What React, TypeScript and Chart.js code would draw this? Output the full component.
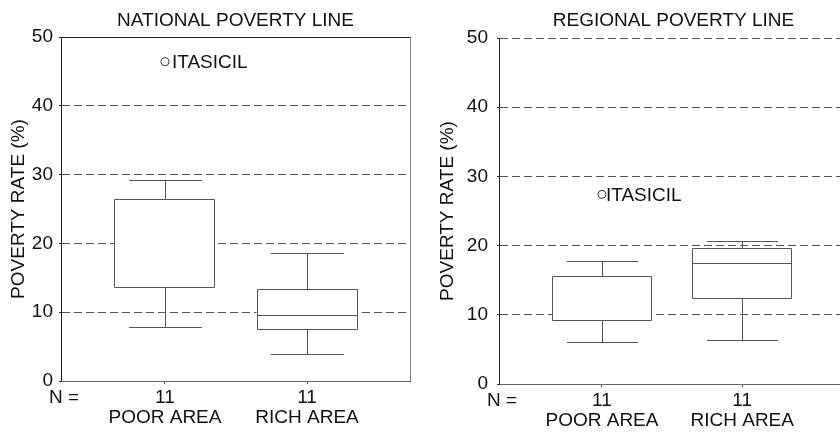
import React, { useEffect, useRef } from 'react';
import { Chart, registerables } from 'chart.js';

Chart.register(...registerables);

const FONT = "'Liberation Sans', Arial, Helvetica, sans-serif";
const FS = 19;

// ---- data ----
const categories = ['POOR AREA', 'RICH AREA'];
const groupSizes = ['11', '11'];
const positions = [1, 2];
const yTickValues = [0, 10, 20, 30, 40, 50];

const nationalTitle = 'NATIONAL POVERTY LINE';
const nationalMin = [7.9, 3.9];
const nationalQ1 = [13.6, 7.6];
const nationalMedian: (number | null)[] = [null, 9.6];
const nationalQ3 = [26.4, 13.4];
const nationalMax = [29.2, 18.6];
const nationalOutlierGroup = [1];
const nationalOutlierValue = [46.4];
const nationalOutlierLabel = ['ITASICIL'];

const regionalTitle = 'REGIONAL POVERTY LINE';
const regionalMin = [6.1, 6.4];
const regionalQ1 = [9.2, 12.5];
const regionalMedian: (number | null)[] = [null, 17.5];
const regionalQ3 = [15.6, 19.6];
const regionalMax = [17.8, 20.6];
const regionalOutlierGroup = [1];
const regionalOutlierValue = [27.4];
const regionalOutlierLabel = ['ITASICIL'];

const yTitle = 'POVERTY RATE (%)';
const nLabel = 'N =';

type Layout = {
  canvasW: number;
  yWidth: number;
  xHeight: number;
  padRight: number;
  titlePadTop: number;
  titlePadBottom: number;
  yTitlePad: number;
  yTickPad: number;
  xMin: number;
  xMax: number;
  frame: boolean;
  labelGap: number;
};

type Props = {
  title: string;
  min: number[];
  q1: number[];
  median: (number | null)[];
  q3: number[];
  max: number[];
  outGroup: number[];
  outValue: number[];
  outLabel: string[];
  layout: Layout;
};

const TEXT = '#111';
const LINE = '#555';

function BoxChart(props: Props) {
  const ref = useRef<HTMLCanvasElement | null>(null);
  useEffect(() => {
    const canvas = ref.current;
    if (!canvas) return;
    const { title, min, q1, median, q3, max, outGroup, outValue, outLabel, layout } = props;

    const boxPlugin = {
      id: 'boxWhiskers',
      afterDatasetsDraw(chart: any) {
        const { ctx, scales } = chart;
        const x = scales.x;
        const y = scales.y;
        const meta = chart.getDatasetMeta(0);
        const py = (v: number) => Math.round(y.getPixelForValue(v)) + 0.5;
        ctx.save();
        ctx.strokeStyle = LINE;
        ctx.lineWidth = 1;
        positions.forEach((p, i) => {
          const cx = Math.round(x.getPixelForValue(p)) + 0.5;
          const bar = meta.data[i];
          const half = bar.width / 2;
          const left = Math.round(bar.x - half) + 0.5;
          const right = Math.round(bar.x + half) - 0.5;
          const capHalf = x.getPixelForValue(p + 0.255) - x.getPixelForValue(p);
          ctx.beginPath();
          // box outline
          ctx.rect(left, py(q3[i]), right - left, py(q1[i]) - py(q3[i]));
          // whiskers
          ctx.moveTo(cx, py(q3[i]));
          ctx.lineTo(cx, py(max[i]));
          ctx.moveTo(Math.round(cx - capHalf), py(max[i]));
          ctx.lineTo(Math.round(cx + capHalf), py(max[i]));
          ctx.moveTo(cx, py(q1[i]));
          ctx.lineTo(cx, py(min[i]));
          ctx.moveTo(Math.round(cx - capHalf), py(min[i]));
          ctx.lineTo(Math.round(cx + capHalf), py(min[i]));
          const m = median[i];
          if (m !== null && m !== undefined) {
            ctx.moveTo(left, py(m));
            ctx.lineTo(right, py(m));
          }
          ctx.stroke();
        });
        // outlier labels
        ctx.fillStyle = TEXT;
        ctx.font = `${FS}px ${FONT}`;
        ctx.textAlign = 'left';
        ctx.textBaseline = 'middle';
        outGroup.forEach((g, i) => {
          const px = x.getPixelForValue(g);
          const pyv = y.getPixelForValue(outValue[i]);
          ctx.fillText(outLabel[i], px + layout.labelGap, pyv + 1);
        });
        ctx.restore();
      },
      afterDraw(chart: any) {
        const { ctx, chartArea } = chart;
        ctx.save();
        if (layout.frame) {
          ctx.lineWidth = 1;
          ctx.strokeStyle = '#222';
          ctx.beginPath();
          ctx.moveTo(chartArea.left, Math.round(chartArea.top) + 0.5);
          ctx.lineTo(chartArea.right, Math.round(chartArea.top) + 0.5);
          ctx.stroke();
          ctx.strokeStyle = '#808080';
          ctx.beginPath();
          ctx.moveTo(Math.round(chartArea.right) + 0.5, chartArea.top);
          ctx.lineTo(Math.round(chartArea.right) + 0.5, chartArea.bottom);
          ctx.stroke();
        }
        ctx.fillStyle = TEXT;
        ctx.font = `${FS}px ${FONT}`;
        ctx.textAlign = 'left';
        ctx.textBaseline = 'middle';
        ctx.fillText(nLabel, chartArea.left - 12, chartArea.bottom + 3 + 4 + 10);
        ctx.restore();
      },
    };

    const chart = new Chart(canvas, {
      type: 'bar',
      data: {
        datasets: [
          {
            type: 'bar',
            data: positions.map((p, i) => ({ x: p, y: [q1[i], q3[i]] })) as any,
            backgroundColor: '#ffffff',
            borderWidth: 0,
            borderSkipped: false,
            barPercentage: 0.711,
            categoryPercentage: 1,
          } as any,
          {
            type: 'scatter',
            data: outGroup.map((g, i) => ({ x: g, y: outValue[i] })),
            pointRadius: 4,
            pointBackgroundColor: '#ffffff',
            pointBorderColor: '#333',
            pointBorderWidth: 1,
            showLine: false,
          } as any,
        ],
      },
      options: {
        responsive: false,
        animation: false,
        events: [],
        layout: { padding: { left: 0, right: layout.padRight, top: 0, bottom: 0 } },
        plugins: {
          legend: { display: false },
          tooltip: { enabled: false },
          title: {
            display: true,
            text: title,
            fullSize: false,
            color: TEXT,
            font: { family: FONT, size: FS, weight: 'normal', lineHeight: 1.2 },
            padding: { top: layout.titlePadTop, bottom: layout.titlePadBottom },
          },
        },
        scales: {
          x: {
            type: 'linear',
            min: layout.xMin,
            max: layout.xMax,
            offset: false,
            afterBuildTicks: (s: any) => {
              s.ticks = positions.map((v) => ({ value: v }));
            },
            afterFit: (s: any) => {
              s.height = layout.xHeight;
            },
            ticks: {
              autoSkip: false,
              maxRotation: 0,
              minRotation: 0,
              padding: 4,
              color: TEXT,
              font: { family: FONT, size: FS, lineHeight: 20 / FS },
              callback: (value: any) => {
                const i = positions.indexOf(Number(value));
                return i >= 0 ? [groupSizes[i], categories[i]] : '';
              },
            },
            grid: {
              drawOnChartArea: false,
              drawTicks: true,
              tickLength: 3,
              tickColor: LINE,
              offset: false,
            },
            border: { display: true, color: '#666', width: 1 },
          },
          y: {
            type: 'linear',
            min: yTickValues[0],
            max: yTickValues[yTickValues.length - 1],
            afterBuildTicks: (s: any) => {
              s.ticks = yTickValues.map((v) => ({ value: v }));
            },
            afterFit: (s: any) => {
              s.width = layout.yWidth;
            },
            ticks: {
              padding: layout.yTickPad,
              color: TEXT,
              font: { family: FONT, size: FS },
            },
            grid: {
              color: '#555',
              lineWidth: 1,
              drawTicks: true,
              tickLength: 2,
              tickColor: '#333',
            },
            border: { display: true, color: '#222', width: 1, dash: [8, 4] },
            title: {
              display: true,
              text: yTitle,
              color: TEXT,
              font: { family: FONT, size: FS, lineHeight: 1.2 },
              padding: { top: layout.yTitlePad, bottom: 0 },
            },
          },
        },
      } as any,
      plugins: [boxPlugin],
    });
    return () => chart.destroy();
  }, []);
  return (
    <canvas
      ref={ref}
      width={props.layout.canvasW}
      height={432}
      style={{ display: 'block', width: props.layout.canvasW, height: 432 }}
    />
  );
}

const leftLayout: Layout = {
  canvasW: 420,
  yWidth: 61,
  xHeight: 51,
  padRight: 10,
  titlePadTop: 9.1,
  titlePadBottom: 5.1,
  yTitlePad: 7.6,
  yTickPad: 6,
  xMin: 0.268,
  xMax: 2.725,
  frame: true,
  labelGap: 7,
};

const rightLayout: Layout = {
  canvasW: 440,
  yWidth: 79,
  xHeight: 48,
  padRight: 12,
  titlePadTop: 9.1,
  titlePadBottom: 6.1,
  yTitlePad: 16.6,
  yTickPad: 9,
  xMin: 0.266,
  xMax: 2.754,
  frame: false,
  labelGap: 4,
};

export default function App() {
  return (
    <div
      style={{
        position: 'absolute',
        left: 0,
        top: 0,
        width: 840,
        height: 432,
        overflow: 'hidden',
        background: '#fff',
      }}
    >
      <div style={{ position: 'absolute', left: 0, top: 0 }}>
        <BoxChart
          title={nationalTitle}
          min={nationalMin}
          q1={nationalQ1}
          median={nationalMedian}
          q3={nationalQ3}
          max={nationalMax}
          outGroup={nationalOutlierGroup}
          outValue={nationalOutlierValue}
          outLabel={nationalOutlierLabel}
          layout={leftLayout}
        />
      </div>
      <div style={{ position: 'absolute', left: 420, top: 0 }}>
        <BoxChart
          title={regionalTitle}
          min={regionalMin}
          q1={regionalQ1}
          median={regionalMedian}
          q3={regionalQ3}
          max={regionalMax}
          outGroup={regionalOutlierGroup}
          outValue={regionalOutlierValue}
          outLabel={regionalOutlierLabel}
          layout={rightLayout}
        />
      </div>
    </div>
  );
}
